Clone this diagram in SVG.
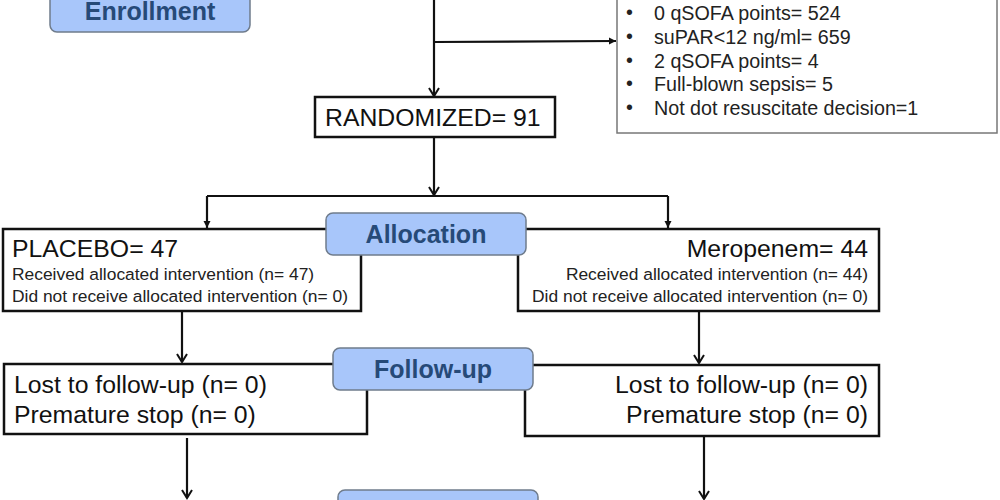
<svg xmlns="http://www.w3.org/2000/svg" width="1000" height="500" viewBox="0 0 1000 500">
<defs>
<style>
.stage rect{fill:#a8c6fa;stroke:#6f7c8c;stroke-width:1.5}
.stage text{font-family:"Liberation Sans",Arial,sans-serif;font-weight:bold;font-size:25px;fill:#264a78;text-anchor:middle}
.box rect{fill:#fff;stroke:#111;stroke-width:2.5}
.big{font-family:"Liberation Sans",Arial,sans-serif;font-size:24.8px;fill:#111}
.small{font-family:"Liberation Sans",Arial,sans-serif;font-size:17.4px;fill:#222}
.excl rect{fill:#fff;stroke:#777;stroke-width:1.5}
.excl text{font-family:"Liberation Sans",Arial,sans-serif;font-size:19.7px;fill:#222}
.conn path{fill:none;stroke:#111;stroke-width:2.2}
</style>
<marker id="arr" markerUnits="userSpaceOnUse" markerWidth="14" markerHeight="14" refX="12" refY="7" orient="auto">
<path d="M4,2 L12,7 L4,12" fill="none" stroke="#111" stroke-width="2"/>
</marker>
<marker id="tri" markerUnits="userSpaceOnUse" markerWidth="10" markerHeight="10" refX="9" refY="5" orient="auto">
<path d="M2,1.5 L9,5 L2,8.5 Z" fill="#111"/>
</marker>
</defs>

<g class="conn" id="connectors">
<path d="M434,-5 L434,96" marker-end="url(#arr)"/>
<path d="M434,42 L616,41" marker-end="url(#tri)"/>
<path d="M434,137 L434,195" marker-end="url(#arr)"/>
<path d="M207,196 L668,196"/>
<path d="M207,196 L207,228" marker-end="url(#tri)"/>
<path d="M668,196 L668,228" marker-end="url(#tri)"/>
<path d="M182,311 L182,362" marker-end="url(#arr)"/>
<path d="M699,311 L699,363" marker-end="url(#arr)"/>
<path d="M187,438 L187,498" marker-end="url(#arr)"/>
<path d="M704,436 L704,499" marker-end="url(#arr)"/>
</g>

<g id="enrollment" class="stage">
<rect x="50" y="-20" width="200" height="52" rx="7"/>
<text x="150" y="20" font-size="24">Enrollment</text>
</g>

<g id="excluded" class="excl">
<rect x="617" y="-10" width="380" height="143"/>
<text x="626" y="19" font-size="15">•</text><text x="654" y="20">0 qSOFA points= 524</text>
<text x="626" y="43" font-size="15">•</text><text x="654" y="44">suPAR&lt;12 ng/ml= 659</text>
<text x="626" y="67" font-size="15">•</text><text x="654" y="68">2 qSOFA points= 4</text>
<text x="626" y="90" font-size="15">•</text><text x="654" y="91">Full-blown  sepsis= 5</text>
<text x="626" y="114" font-size="15">•</text><text x="654" y="115">Not dot resuscitate decision=1</text>
</g>

<g id="randomized" class="box">
<rect x="315" y="97" width="240" height="40"/>
<text class="big" x="325" y="126">RANDOMIZED= 91</text>
</g>

<g id="placebo" class="box">
<rect x="3" y="229" width="358" height="82"/>
<text class="big" x="12" y="257">PLACEBO= 47</text>
<text class="small" x="12" y="280">Received allocated intervention (n= 47)</text>
<text class="small" x="12" y="302">Did not receive allocated intervention (n= 0)</text>
</g>

<g id="meropenem" class="box">
<rect x="518" y="229" width="361" height="82"/>
<text class="big" x="868" y="257" text-anchor="end">Meropenem= 44</text>
<text class="small" x="868" y="280" text-anchor="end">Received allocated intervention (n= 44)</text>
<text class="small" x="868" y="302" text-anchor="end">Did not receive allocated intervention (n= 0)</text>
</g>

<g id="allocation" class="stage">
<rect x="326" y="213" width="200" height="42" rx="7"/>
<text x="426" y="243">Allocation</text>
</g>

<g id="followup-left" class="box">
<rect x="4" y="364" width="363" height="70"/>
<text class="big" x="14" y="393">Lost to follow-up (n= 0)</text>
<text class="big" x="14" y="423">Premature stop (n= 0)</text>
</g>

<g id="followup-right" class="box">
<rect x="525" y="365" width="354" height="71"/>
<text class="big" x="868" y="393" text-anchor="end">Lost to follow-up (n= 0)</text>
<text class="big" x="868" y="423" text-anchor="end">Premature stop (n= 0)</text>
</g>

<g id="followup" class="stage">
<rect x="333" y="348" width="200" height="42" rx="7"/>
<text x="433" y="378">Follow-up</text>
</g>

<g id="analysis" class="stage">
<rect x="338" y="490" width="200" height="42" rx="7"/>
</g>
</svg>
